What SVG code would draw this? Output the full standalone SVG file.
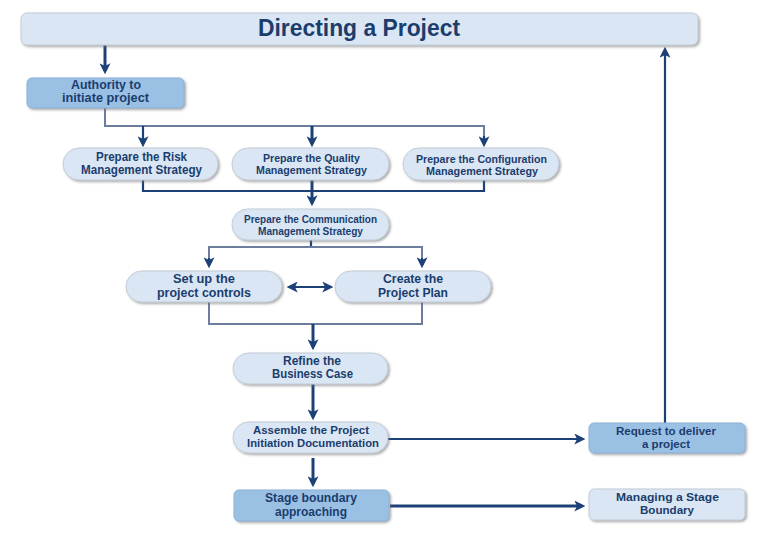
<svg xmlns="http://www.w3.org/2000/svg" width="762" height="533" viewBox="0 0 762 533">
<defs>
<filter id="sh" x="-10%" y="-20%" width="125%" height="150%">
<feDropShadow dx="1.5" dy="1.5" stdDeviation="1" flood-color="#707070" flood-opacity="0.6"/>
</filter>
<marker id="ah" viewBox="0 0 10 10" refX="7" refY="5" markerWidth="11" markerHeight="11" markerUnits="userSpaceOnUse" orient="auto-start-reverse">
<path d="M0,0 L10,5 L0,10 L2.5,5 z" fill="#1c4177"/>
</marker>
</defs>
<style>
.pill{fill:#dae6f3;stroke:#c3ccd8;stroke-width:1;filter:url(#sh)}
.light{fill:#dae6f3;stroke:#c3ccd8;stroke-width:1;filter:url(#sh)}
.mid{fill:#9ac0e4;stroke:#8fb2d6;stroke-width:1;filter:url(#sh)}
text{font-family:"Liberation Sans",Arial,sans-serif;font-weight:bold;fill:#1b3d6e;text-anchor:middle}
.navy{fill:none;stroke:#1c4177;stroke-width:2.2}
.thick{fill:none;stroke:#1c4177;stroke-width:3}
.gray{fill:none;stroke:#6d7d9d;stroke-width:2}
.arr{marker-end:url(#ah)}
</style>
<rect width="762" height="533" fill="#ffffff"/>

<g id="connectors">
<path class="thick arr" d="M105 45 V71"/>
<path class="gray" d="M105 108 V126 H484 V141"/>
<path class="navy arr" d="M484 136 V144"/>
<path class="navy arr" d="M143 126 V144"/>
<path class="thick arr" d="M312 126 V144"/>
<path class="navy" d="M143 180 V191 H484 V180"/>
<path class="thick arr" d="M312 180 V203"/>
<path class="navy" d="M311 240 V248"/>
<path class="gray" d="M311 247 H209 V262"/>
<path class="gray" d="M311 247 H422 V262"/>
<path class="navy arr" d="M209 258 V265"/>
<path class="navy arr" d="M422 258 V265"/>
<path class="navy" d="M290 287 H330" marker-start="url(#ah)" marker-end="url(#ah)"/>
<path class="gray" d="M209 302 V324 H422 V302"/>
<path class="thick arr" d="M313 324 V347"/>
<path class="thick arr" d="M313 384 V417"/>
<path class="navy arr" d="M388 439 H582"/>
<path class="navy arr" d="M665 423 V50"/>
<path class="thick arr" d="M313 458 V484"/>
<path class="thick arr" d="M390 506 H582"/>
</g>

<g id="title">
<rect x="21" y="13" width="677" height="32" rx="6" class="light"/>
<text x="359" y="36" font-size="23" textLength="202" lengthAdjust="spacingAndGlyphs">Directing a Project</text>
</g>

<g id="authority">
<rect x="27" y="78" width="157" height="30" rx="5" class="mid"/>
<text x="106" y="89" font-size="12" textLength="70" lengthAdjust="spacingAndGlyphs">Authority to</text>
<text x="105.5" y="102" font-size="12" textLength="87" lengthAdjust="spacingAndGlyphs">initiate project</text>
</g>

<g id="risk">
<rect x="63" y="148" width="155" height="32" rx="16" class="pill"/>
<text x="141.5" y="161" font-size="12" textLength="91" lengthAdjust="spacingAndGlyphs">Prepare the Risk</text>
<text x="141.5" y="174" font-size="12" textLength="121" lengthAdjust="spacingAndGlyphs">Management Strategy</text>
</g>

<g id="quality">
<rect x="232" y="148" width="157" height="32" rx="16" class="pill"/>
<text x="311.5" y="162" font-size="11" textLength="97" lengthAdjust="spacingAndGlyphs">Prepare the Quality</text>
<text x="311.5" y="174" font-size="11" textLength="111" lengthAdjust="spacingAndGlyphs">Management Strategy</text>
</g>

<g id="configuration">
<rect x="403" y="148" width="156" height="32" rx="16" class="pill"/>
<text x="481.5" y="163" font-size="11" textLength="131" lengthAdjust="spacingAndGlyphs">Prepare the Configuration</text>
<text x="482" y="175" font-size="11" textLength="112" lengthAdjust="spacingAndGlyphs">Management Strategy</text>
</g>

<g id="communication">
<rect x="232" y="209" width="157" height="31" rx="15.5" class="pill"/>
<text x="310.5" y="223" font-size="10.5" textLength="133" lengthAdjust="spacingAndGlyphs">Prepare the Communication</text>
<text x="310.5" y="235" font-size="10.5" textLength="105" lengthAdjust="spacingAndGlyphs">Management Strategy</text>
</g>

<g id="setup">
<rect x="126" y="271" width="156" height="31" rx="15.5" class="pill"/>
<text x="204" y="283" font-size="12.5" textLength="62" lengthAdjust="spacingAndGlyphs">Set up the</text>
<text x="204" y="297" font-size="12.5" textLength="94" lengthAdjust="spacingAndGlyphs">project controls</text>
</g>

<g id="plan">
<rect x="335" y="271" width="156" height="31" rx="15.5" class="pill"/>
<text x="413" y="283" font-size="12.5" textLength="60" lengthAdjust="spacingAndGlyphs">Create the</text>
<text x="413" y="297" font-size="12.5" textLength="70" lengthAdjust="spacingAndGlyphs">Project Plan</text>
</g>

<g id="refine">
<rect x="233" y="353" width="155" height="31" rx="15.5" class="pill"/>
<text x="312" y="364.5" font-size="12" textLength="58" lengthAdjust="spacingAndGlyphs">Refine the</text>
<text x="312.5" y="378" font-size="12" textLength="81" lengthAdjust="spacingAndGlyphs">Business Case</text>
</g>

<g id="assemble">
<rect x="233" y="422" width="155" height="31" rx="15.5" class="pill"/>
<text x="311" y="434" font-size="11.5" textLength="116" lengthAdjust="spacingAndGlyphs">Assemble the Project</text>
<text x="313" y="447" font-size="11.5" textLength="132" lengthAdjust="spacingAndGlyphs">Initiation Documentation</text>
</g>

<g id="request">
<rect x="589" y="423" width="156" height="30" rx="5" class="mid"/>
<text x="666" y="434.5" font-size="11.5" textLength="100" lengthAdjust="spacingAndGlyphs">Request to deliver</text>
<text x="666" y="447.5" font-size="11.5" textLength="48" lengthAdjust="spacingAndGlyphs">a project</text>
</g>

<g id="stage">
<rect x="234" y="490" width="155" height="31" rx="5" class="mid"/>
<text x="311" y="502" font-size="12" textLength="92" lengthAdjust="spacingAndGlyphs">Stage boundary</text>
<text x="311" y="516" font-size="12" textLength="72" lengthAdjust="spacingAndGlyphs">approaching</text>
</g>

<g id="managing">
<rect x="589" y="489" width="156" height="31" rx="5" class="light"/>
<text x="667.5" y="500.5" font-size="11.5" textLength="103" lengthAdjust="spacingAndGlyphs">Managing a Stage</text>
<text x="667" y="513.5" font-size="11.5" textLength="54" lengthAdjust="spacingAndGlyphs">Boundary</text>
</g>
</svg>
